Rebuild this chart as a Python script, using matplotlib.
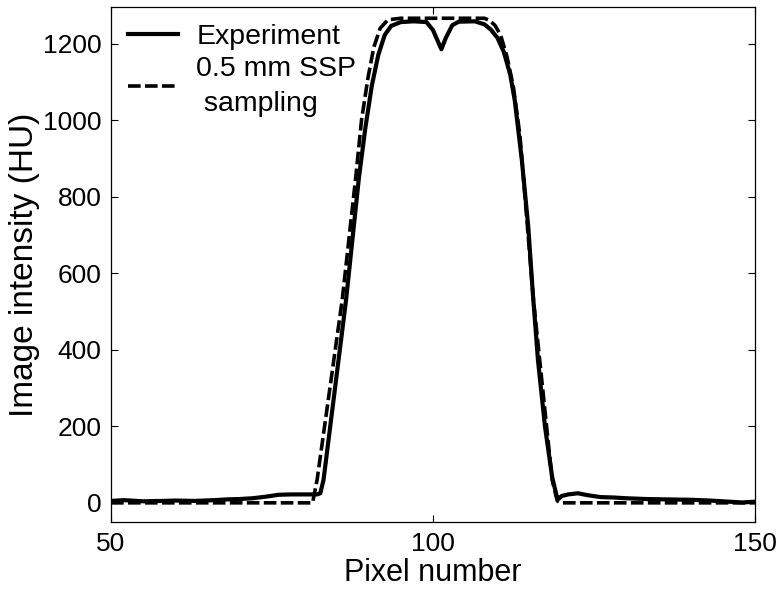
import matplotlib
matplotlib.use("Agg")
import matplotlib.pyplot as plt

plt.rcParams['font.family'] = ['Liberation Sans', 'DejaVu Sans']

# measured profile (experiment)
exp_x = [50, 52, 55, 58, 60, 63, 66, 68, 70, 72, 74, 76, 78, 80, 82, 82.5,
         83, 86.5, 88.5, 89.5, 90.5, 91.5, 92.5, 93.5, 95, 97, 99, 100, 101.3,
         102, 103, 104, 106.5, 108, 109, 110, 111, 112, 112.7, 113.8, 114.8,
         115.5, 116.3, 117.4, 118.5, 119.2, 119.6, 120, 121, 122.5, 124, 126,
         128, 130, 133, 136, 140, 143, 146, 148, 150]
exp_y = [5, 7, 4, 5, 6, 5, 7, 9, 10, 12, 16, 21, 22, 22, 22, 25,
         60, 530, 850, 980, 1090, 1170, 1222, 1246, 1256, 1258, 1256, 1235, 1185,
         1215, 1248, 1257, 1258, 1250, 1236, 1215, 1178, 1118, 1051, 895, 720,
         548, 373, 198, 68, 18, 12, 18, 22, 25, 20, 15,
         14, 12, 10, 9, 8, 6, 3, 1, 3]

# simulated profile (0.5 mm SSP sampling)
ssp_x = [50, 81.3, 82, 85.9, 88.0, 88.9, 89.9, 90.8, 91.8, 93, 95, 108,
         108.8, 109.6, 110.5, 111.5, 112.5, 113.5, 115.6, 118.5, 119.3,
         119.8, 150]
ssp_y = [0, 0, 60, 530, 850, 1000, 1110, 1190, 1240, 1262, 1266, 1266,
         1260, 1248, 1222, 1165, 1085, 960, 530, 60, 5,
         0, 0]

xticks = [50, 100, 150]
yticks = [0, 200, 400, 600, 800, 1000, 1200]

fig = plt.figure(figsize=(7.83, 5.96), dpi=100)
ax = fig.add_axes([0.1418, 0.1242, 0.8224, 0.8638])

ax.plot(exp_x, exp_y, color='black', lw=3.0, label='Experiment')
ax.plot(ssp_x, ssp_y, color='black', lw=2.6, linestyle=(0, (3.5, 1.2)),
        label='0.5 mm SSP\n sampling')

ax.set_xlim(50, 150)
ax.set_ylim(-50, 1295)
ax.set_xticks(xticks)
ax.set_yticks(yticks)
ax.tick_params(direction='in', top=True, right=True, length=5, width=0.8,
               labelsize=19, pad=7)
for s in ax.spines.values():
    s.set_linewidth(0.9)

ax.set_xlabel('Pixel number', fontsize=22, labelpad=2)
ax.set_ylabel('Image intensity (HU)', fontsize=24, labelpad=2)

leg = ax.legend(loc='upper left', frameon=False, fontsize=20.5, handlelength=1.75,
                handletextpad=0.65, borderaxespad=0.3, labelspacing=0.2,
                borderpad=0.3)
for t in leg.get_texts():
    t.set_linespacing(1.45)

fig.savefig('out.png', dpi=100)
